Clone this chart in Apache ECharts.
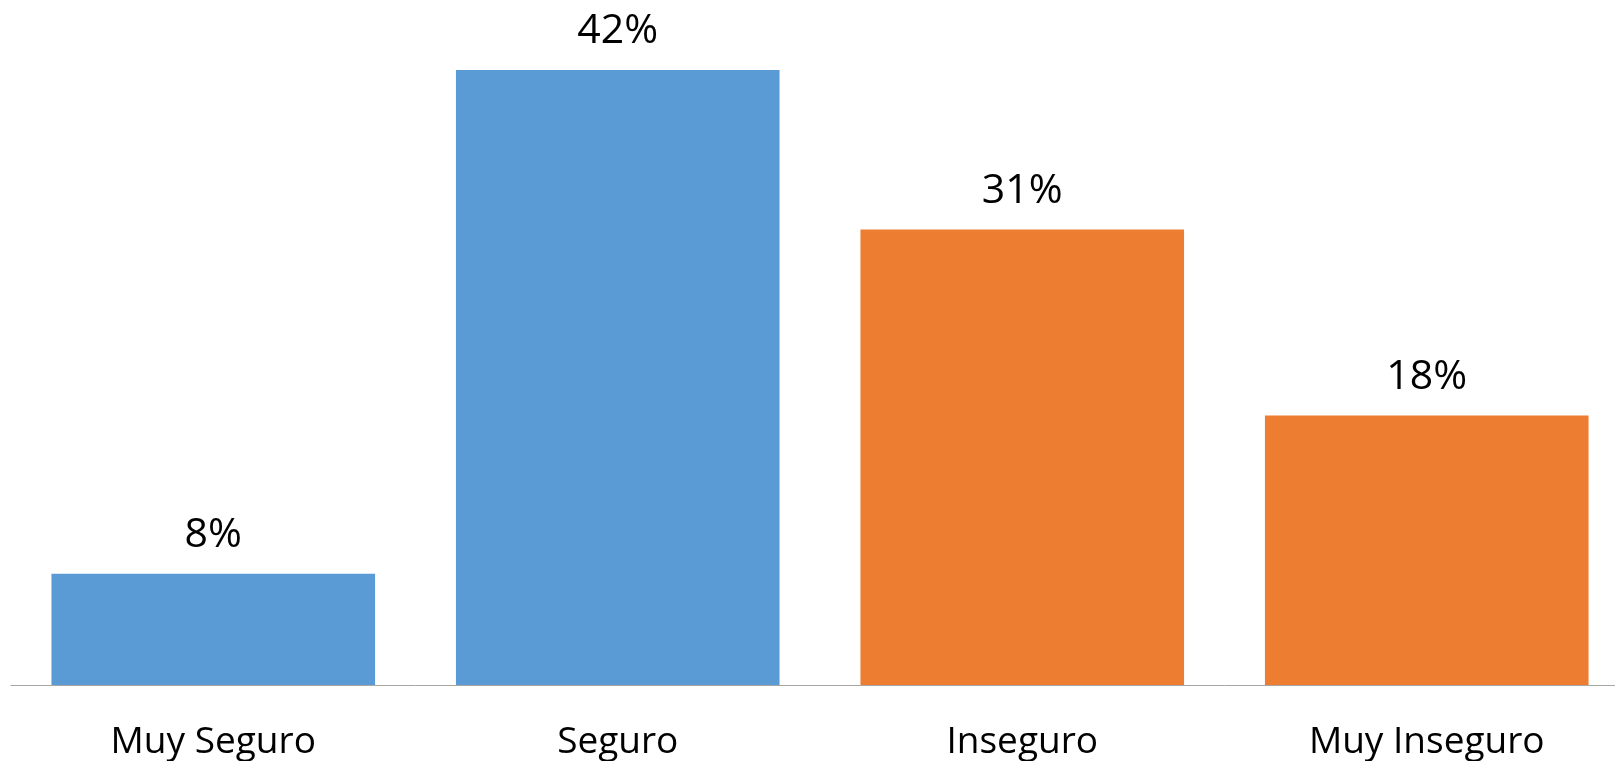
<!DOCTYPE html>
<html>
<head>
<meta charset="utf-8">
<script src="https://cdn.jsdelivr.net/npm/echarts@6/dist/echarts.min.js"></script>
<style>
html,body{margin:0;padding:0;background:#fff;overflow:hidden;}
#chart{width:1630px;height:761px;}
</style>
</head>
<body>
<div id="chart"></div>
<script>
const categories = ["Muy Seguro", "Seguro", "Inseguro", "Muy Inseguro"];
const values = [7.6, 42.0, 31.1, 18.4];
const barColors = ["#5B9BD5", "#5B9BD5", "#ED7D31", "#ED7D31"];

const chart = echarts.init(document.getElementById('chart'));
chart.setOption({
  animation: false,
  backgroundColor: '#ffffff',
  grid: { left: 11, right: 1, top: 26, bottom: 76, containLabel: false },
  xAxis: {
    type: 'category',
    data: categories,
    axisLine: { show: true, lineStyle: { color: '#A6A6A6', width: 1 } },
    axisTick: { show: false },
    axisLabel: {
      interval: 0,
      margin: 39,
      fontFamily: 'Open Sans',
      fontSize: 37,
      lineHeight: 37,
      color: '#000000'
    }
  },
  yAxis: {
    type: 'value',
    min: 0,
    max: 45,
    show: false,
    splitLine: { show: false }
  },
  series: [{
    type: 'bar',
    data: values.map((v, i) => ({ value: v, itemStyle: { color: barColors[i] } })),
    barCategoryGap: '20%',
    label: {
      show: true,
      position: 'top',
      distance: 18,
      fontFamily: 'Open Sans',
      fontSize: 41,
      lineHeight: 41,
      color: '#000000',
      formatter: p => Math.round(p.value) + '%'
    }
  }]
});
</script>
</body>
</html>
